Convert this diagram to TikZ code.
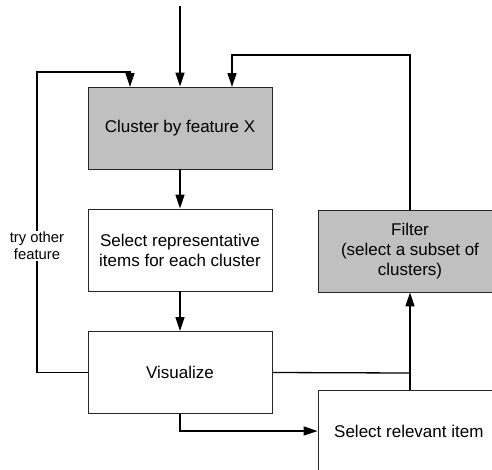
\documentclass[tikz,border=0pt]{standalone}
\usepackage{fontspec}
\setmainfont{Liberation Sans}
\usetikzlibrary{arrows.meta}
\definecolor{boxgray}{HTML}{C0C0C0}
\tikzset{
  box/.style={draw=black!85, line width=0.9pt, minimum width=184pt, minimum height=82pt,
    inner sep=0pt, align=center, font=\fontsize{17pt}{20pt}\selectfont},
  graybox/.style={box, fill=boxgray},
  whitebox/.style={box, fill=white},
  conn/.style={line width=1.3pt, -{Triangle[length=14pt,width=9pt]}},
  plain/.style={line width=1.3pt},
  lbl/.style={font=\fontsize{14.8pt}{17pt}\selectfont, align=center, inner sep=1pt}
}
\begin{document}
\begin{tikzpicture}[x=1pt,y=-1pt]
\useasboundingbox (0,0) rectangle (492,469);
\begin{scope}
\clip (0,0) rectangle (492,469);
\node[graybox] (cluster) at (180,128) {Cluster by feature X};
\node[whitebox] (select) at (180,250) {Select representative\\items for each cluster};
\node[whitebox] (vis) at (180,372.5) {Visualize};
\node[graybox] (filter) at (410,251) {Filter\\(select a subset of\\clusters)};
\node[whitebox] (relevant) at (410,431) {};
\node[anchor=west, font=\fontsize{17pt}{20pt}\selectfont, inner sep=0pt] (reltext) at (334,431) {Select relevant item};
\node[lbl] (try) at (37,246) {try other\\feature};

\coordinate (start) at (180,6);
\coordinate (jn) at (410,373);

\draw[conn] (start) -- (cluster.north);
\draw[conn] (cluster.south) -- (select.north);
\draw[conn] (select.south) -- (vis.north);
\draw[plain] (vis.west) -| (try.south);
\draw[conn] (try.north) |- (130,72) -- (130,87);
\draw[conn] (filter.north) |- (232,55) -- (232,87);
\draw[conn] (vis.south) |- (relevant.west);
\draw[plain] (vis.east) -- (jn);
\draw[conn] (relevant.north) -- (filter.south);
\end{scope}
\end{tikzpicture}
\end{document}
